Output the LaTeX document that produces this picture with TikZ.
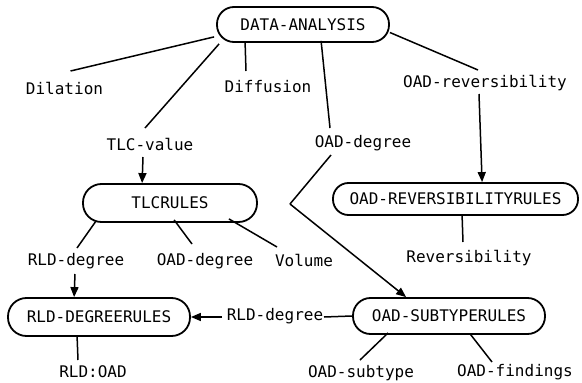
\documentclass[tikz,border=0pt]{standalone}
\usepackage{fontspec}
\setmonofont{DejaVu Sans Mono}
\usetikzlibrary{calc,arrows.meta}
\tikzset{
  rulebox/.style={draw, line width=1.8pt, inner sep=0pt, align=center},
  lbl/.style={inner sep=0pt},
  conn/.style={line width=1.5pt},
  arr/.style={line width=1.5pt, -{Triangle[length=10pt,width=8pt]}},
}
\begin{document}
\begin{tikzpicture}[x=1pt,y=-1pt,font=\ttfamily\fontsize{16}{18}\selectfont]
\useasboundingbox (0,0) rectangle (582,383);
% rule boxes
\node[rulebox, rounded corners=17pt, minimum width=172pt, minimum height=35pt] (DA) at (303,24.5) {DATA-ANALYSIS};
\node[rulebox, rounded corners=18.5pt, minimum width=174pt, minimum height=38pt] (TR) at (170,203) {TLCRULES};
\node[rulebox, rounded corners=18.5pt, minimum width=182pt, minimum height=38pt] (RDR) at (99,317) {RLD-DEGREERULES};
\node[rulebox, rounded corners=15.5pt, minimum width=245pt, minimum height=32pt] (ORR) at (455.5,199) {OAD-REVERSIBILITYRULES};
\node[rulebox, rounded corners=17.5pt, minimum width=192pt, minimum height=36pt] (OSR) at (449,316) {OAD-SUBTYPERULES};
% labels
\node[lbl] (dil) at (64.5,88) {Dilation};
\node[lbl] (dif) at (268,87) {Diffusion};
\node[lbl] (tlc) at (150,144) {TLC-value};
\node[lbl] (oad1) at (363,143) {OAD-degree};
\node[lbl] (orev) at (485,83) {OAD-reversibility};
\node[lbl] (rld1) at (76,261) {RLD-degree};
\node[lbl] (oad2) at (205,261) {OAD-degree};
\node[lbl] (vol) at (304,260) {Volume};
\node[lbl] (rev) at (469,258) {Reversibility};
\node[lbl] (rld2) at (275,316) {RLD-degree};
\node[lbl] (rldoad) at (93,372) {RLD:OAD};
\node[lbl] (osub) at (361,373) {OAD-subtype};
\node[lbl] (ofind) at (515,372) {OAD-findings};
\coordinate (apex) at (290,204);
% connectors
\draw[conn] ($(DA.south west)+(-2,-6)$) -- ($(dil)+(6,-17)$);
\draw[conn] ($(DA.south west)+(29,0)$) -- ($(dif)+(-22,-16)$);
\draw[conn] ($(DA.south west)+(3,1)$) -- ($(tlc)+(-5,-16)$);
\draw[arr] ($(tlc)+(-7,13)$) -- ($(TR.north west)+(60,0)$);
\draw[conn] ($(TR.south west)+(14,-2)$) -- ($(rld1)+(1,-13)$);
\draw[conn] ($(TR.south west)+(92,-3)$) -- ($(oad2)+(-13,-17)$);
\draw[conn] ($(TR.south east)+(-29,-4)$) -- ($(vol)+(-27,-13)$);
\draw[arr] ($(rld1)+(-1,13)$) -- ($(RDR.north west)+(67,0)$);
\draw[conn] ($(RDR.south west)+(70,0)$) -- ($(rldoad)+(-15,-12)$);
\draw[arr] ($(rld2)+(-53,1)$) -- (RDR.east);
\draw[conn] (OSR.west) -- ($(rld2)+(49,1)$);
\draw[conn] ($(DA.south west)+(105,-2)$) -- ($(oad1)+(-33,-15)$);
\draw[conn] ($(oad1)+(-32,12)$) -- (apex);
\draw[arr] (apex) -- ($(OSR.north west)+(54,0)$);
\draw[conn] ($(DA.east)+(0,8)$) -- ($(orev)+(-7,-13)$);
\draw[arr] ($(orev)+(-6,11)$) -- ($(ORR.north west)+(150,0)$);
\draw[conn] ($(ORR.south west)+(130,0)$) -- ($(rev)+(-6,-16)$);
\draw[conn] ($(OSR.south west)+(36,-2)$) -- ($(osub)+(-1,-13)$);
\draw[conn] ($(OSR.south west)+(118,-1)$) -- ($(ofind)+(-23,-10)$);
\end{tikzpicture}
\end{document}
